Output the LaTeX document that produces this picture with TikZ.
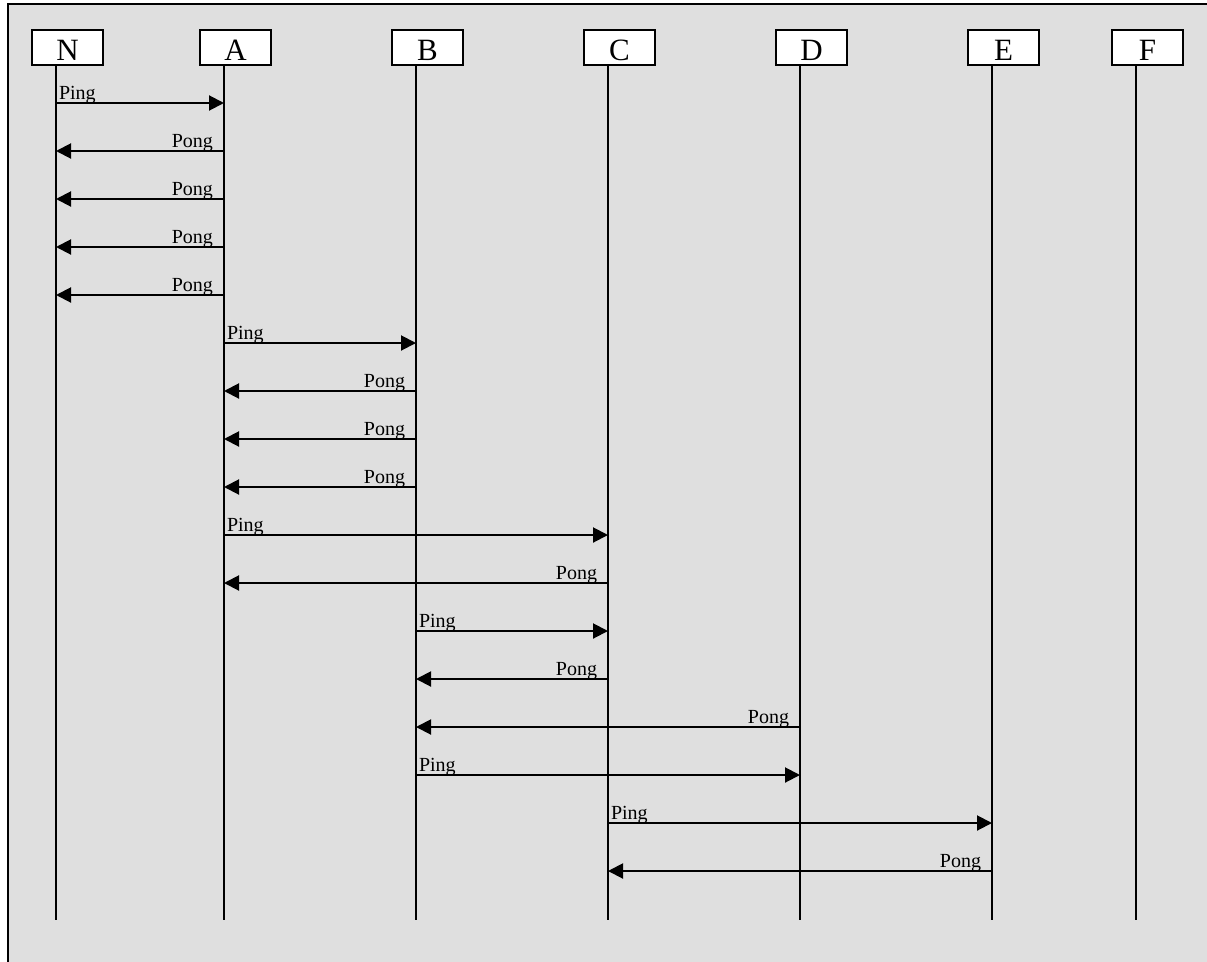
\documentclass[tikz,border=0pt]{standalone}
\usepackage{fontspec}
\setmainfont{Liberation Serif}
\usetikzlibrary{arrows.meta,positioning}
\definecolor{panel}{HTML}{DFDFDF}

\begin{document}
\begin{tikzpicture}[
    x=1pt, y=-1pt,
    actor/.style={rectangle, draw, fill=white, line width=1.5pt, minimum width=71pt, minimum height=35pt, inner sep=0pt, outer sep=0pt, text height=26pt, text depth=0pt, font=\fontsize{31}{36}\selectfont},
    life/.style={line width=1.8pt},
    msg/.style={-{Triangle[length=15pt,width=15pt]}, line width=2pt},
    ping/.style={anchor=base west, inner sep=0pt, xshift=2pt, yshift=4pt, font=\fontsize{20}{24}\selectfont},
    pong/.style={anchor=base east, inner sep=0pt, xshift=-10pt, yshift=4pt, font=\fontsize{20}{24}\selectfont},
]
    \useasboundingbox (0,0) rectangle (1207,961);
    \clip (0,0) rectangle (1207,961);
    \draw[fill=panel, line width=2pt] (8,4) rectangle (1230,990);

    % Actors
    \node[actor] (N) at (67.5,47.5) {N};
    \node[actor, right=97pt of N] (A) {A};
    \node[actor, right=121pt of A] (B) {B};
    \node[actor, right=121pt of B] (C) {C};
    \node[actor, right=121pt of C] (D) {D};
    \node[actor, right=121pt of D] (E) {E};
    \node[actor, right=73pt of E] (F) {F};

    % Lifelines
    \coordinate (Nl) at ([xshift=-11.5pt]N.south);
    \coordinate (Al) at ([xshift=-11.5pt]A.south);
    \coordinate (Bl) at ([xshift=-11.5pt]B.south);
    \coordinate (Cl) at ([xshift=-11.5pt]C.south);
    \coordinate (Dl) at ([xshift=-11.5pt]D.south);
    \coordinate (El) at ([xshift=-11.5pt]E.south);
    \coordinate (Fl) at ([xshift=-11.5pt]F.south);
    \draw[life] (Nl) -- (Nl |- 0,920);
    \draw[life] (Al) -- (Al |- 0,920);
    \draw[life] (Bl) -- (Bl |- 0,920);
    \draw[life] (Cl) -- (Cl |- 0,920);
    \draw[life] (Dl) -- (Dl |- 0,920);
    \draw[life] (El) -- (El |- 0,920);
    \draw[life] (Fl) -- (Fl |- 0,920);

    % Messages
    \draw[msg] (Nl |- 0,103) node[ping] {Ping} -- (Al |- 0,103);
    \draw[msg] (Al |- 0,151) node[pong] {Pong} -- (Nl |- 0,151);
    \draw[msg] (Al |- 0,199) node[pong] {Pong} -- (Nl |- 0,199);
    \draw[msg] (Al |- 0,247) node[pong] {Pong} -- (Nl |- 0,247);
    \draw[msg] (Al |- 0,295) node[pong] {Pong} -- (Nl |- 0,295);
    \draw[msg] (Al |- 0,343) node[ping] {Ping} -- (Bl |- 0,343);
    \draw[msg] (Bl |- 0,391) node[pong] {Pong} -- (Al |- 0,391);
    \draw[msg] (Bl |- 0,439) node[pong] {Pong} -- (Al |- 0,439);
    \draw[msg] (Bl |- 0,487) node[pong] {Pong} -- (Al |- 0,487);
    \draw[msg] (Al |- 0,535) node[ping] {Ping} -- (Cl |- 0,535);
    \draw[msg] (Cl |- 0,583) node[pong] {Pong} -- (Al |- 0,583);
    \draw[msg] (Bl |- 0,631) node[ping] {Ping} -- (Cl |- 0,631);
    \draw[msg] (Cl |- 0,679) node[pong] {Pong} -- (Bl |- 0,679);
    \draw[msg] (Dl |- 0,727) node[pong] {Pong} -- (Bl |- 0,727);
    \draw[msg] (Bl |- 0,775) node[ping] {Ping} -- (Dl |- 0,775);
    \draw[msg] (Cl |- 0,823) node[ping] {Ping} -- (El |- 0,823);
    \draw[msg] (El |- 0,871) node[pong] {Pong} -- (Cl |- 0,871);
\end{tikzpicture}
\end{document}
